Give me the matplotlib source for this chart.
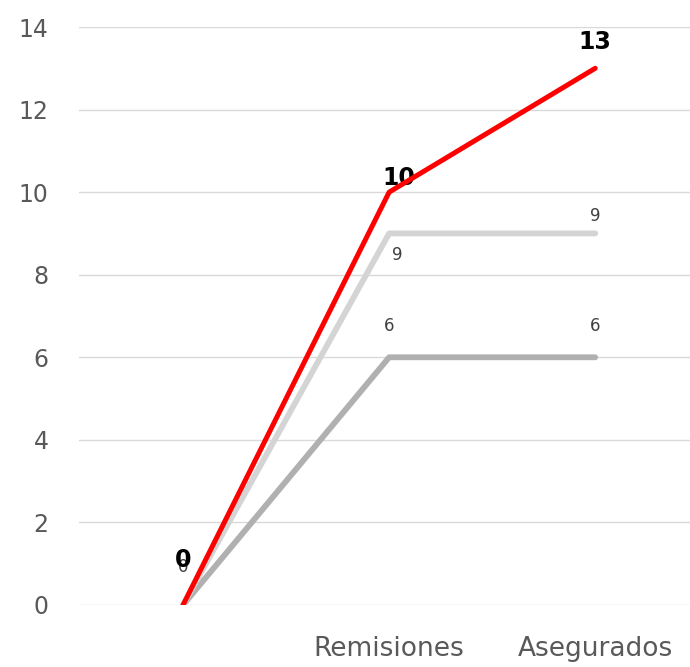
import matplotlib.pyplot as plt

categorias = ["", "Remisiones", "Asegurados"]
serie_roja = [0, 10, 13]
serie_clara = [0, 9, 9]
serie_oscura = [0, 6, 6]

fig = plt.figure(figsize=(6.9, 6.67), dpi=100)
ax = fig.add_axes([0.1145, 0.093, 0.8855, 0.8665])

x = list(range(len(categorias)))

# gray series first so the red line sits on top
ax.plot(x, serie_oscura, color="#b0b0b0", lw=4.2, solid_capstyle="round", zorder=3)
ax.plot(x, serie_clara, color="#d4d4d4", lw=4.2, solid_capstyle="round", zorder=3)
ax.plot(x, serie_roja, color="#ff0000", lw=3.6, solid_capstyle="round", zorder=4)

# data labels
ax.annotate(str(serie_oscura[0]), (x[0], serie_oscura[0]), xytext=(0, 24),
            textcoords="offset points", ha="center", fontsize=12, color="#404040")
for i in (1, 2):
    ax.annotate(str(serie_oscura[i]), (x[i], serie_oscura[i]), xytext=(0, 19),
                textcoords="offset points", ha="center", fontsize=12, color="#404040")
ax.annotate(str(serie_clara[1]), (x[1], serie_clara[1]), xytext=(6, -19),
            textcoords="offset points", ha="center", fontsize=12, color="#404040")
ax.annotate(str(serie_clara[2]), (x[2], serie_clara[2]), xytext=(0, 9),
            textcoords="offset points", ha="center", fontsize=12, color="#404040")
ax.annotate(str(serie_roja[0]), (x[0], serie_roja[0]), xytext=(0, 27),
            textcoords="offset points", ha="center", fontsize=17,
            fontweight="bold", color="black")
ax.annotate(str(serie_roja[1]), (x[1], serie_roja[1]), xytext=(7, 5),
            textcoords="offset points", ha="center", fontsize=17,
            fontweight="bold", color="black")
ax.annotate(str(serie_roja[2]), (x[2], serie_roja[2]), xytext=(0, 14),
            textcoords="offset points", ha="center", fontsize=17,
            fontweight="bold", color="black", annotation_clip=False)

ax.set_xlim(-0.505, 2.46)
ax.set_ylim(0, 14)
ax.set_yticks(range(0, 15, 2))
ax.set_xticks(x)
ax.set_xticklabels(categorias)
ax.grid(axis="y", color="#d9d9d9", lw=1)
ax.set_axisbelow(True)
for s in ax.spines.values():
    s.set_visible(False)
ax.tick_params(axis="both", length=0, colors="#595959")
ax.tick_params(axis="y", labelsize=17, pad=22)
ax.tick_params(axis="x", labelsize=19, pad=22)

plt.savefig("out.png", dpi=100)
